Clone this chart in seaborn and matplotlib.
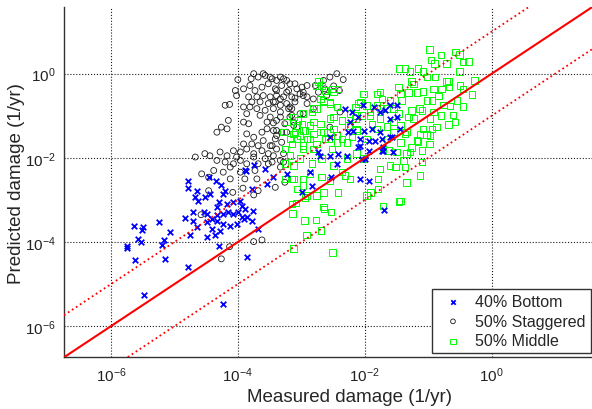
import numpy as np
import pandas as pd
import matplotlib
matplotlib.use('Agg')
import matplotlib.pyplot as plt
import seaborn as sns
from matplotlib.ticker import LogFormatterMathtext, NullLocator

# log10 of (measured, predicted) damage
bottom_log = [
    (-4.79, -2.54), (-4.79, -2.71), (-4.65, -2.78), (-4.67, -2.92), (-4.62, -3.03),
    (-4.52, -2.94), (-4.34, -2.56), (-4.27, -2.64), (-4.20, -2.79), (-4.24, -2.87),
    (-4.44, -2.86), (-4.29, -3.05), (-4.33, -3.17), (-4.17, -3.10), (-4.07, -3.05),
    (-3.97, -3.02), (-3.94, -3.14), (-3.89, -3.21), (-3.76, -3.27), (-3.99, -3.29),
    (-4.07, -3.33), (-4.15, -3.29), (-4.23, -3.33), (-4.33, -3.36), (-4.41, -3.45),
    (-4.49, -3.33), (-4.54, -3.28), (-4.70, -3.29), (-4.84, -3.44), (-4.71, -3.49),
    (-4.64, -3.65), (-4.48, -3.53), (-4.33, -3.49), (-4.23, -3.57), (-4.12, -3.61),
    (-4.02, -3.57), (-3.91, -3.45), (-3.86, -3.41), (-3.68, -3.69), (-4.41, -3.69),
    (-4.49, -3.89), (-4.36, -3.83), (-4.28, -3.73), (-4.75, -3.83), (-5.07, -3.75),
    (-5.25, -3.53), (-5.50, -3.65), (-5.51, -3.71), (-5.64, -3.63), (-5.57, -3.93),
    (-5.53, -3.99), (-5.16, -3.95), (-5.20, -4.07), (-5.74, -4.09), (-5.74, -4.15),
    (-5.62, -4.42), (-5.14, -4.40), (-4.78, -4.60), (-4.29, -4.09), (-3.86, -4.36),
    (-5.48, -5.26), (-4.23, -5.48), (-3.77, -2.75), (-3.75, -2.18), (-3.87, -2.32),
    (-3.77, -3.49), (-3.94, -3.41), (-4.46, -2.46), (-3.89, -2.30), (-3.57, -2.26),
    (-3.54, -2.62), (-3.44, -2.46), (-1.49, -0.75), (-1.60, -1.07), (-1.50, -1.03),
    (-1.68, -0.87), (-1.44, -1.31), (-1.57, -1.51), (-1.73, -1.55), (-1.55, -1.86),
    (-1.71, -1.75), (-1.86, -0.79), (-1.76, -0.91), (-2.20, -0.91), (-2.23, -1.15),
    (-2.26, -1.39), (-2.18, -1.35), (-2.02, -1.35), (-1.89, -1.31), (-1.76, -1.39),
    (-2.07, -1.55), (-1.94, -1.59), (-1.84, -1.59), (-1.71, -1.83), (-1.94, -1.83),
    (-2.10, -1.75), (-2.28, -1.95), (-2.42, -1.90), (-2.55, -1.95), (-1.99, -2.02),
    (-2.05, -2.02), (-3.23, -2.38), (-2.83, -2.66), (-2.54, -2.46), (-2.07, -2.50),
    (-1.94, -2.54), (-2.99, -2.82), (-2.31, -0.83), (-2.10, -1.03), (-1.60, -0.75),
    (-2.55, -1.51), (-2.73, -1.86), (-2.03, -0.74), (-1.60, -1.51), (-2.07, -1.71),
    (-2.86, -2.34), (-1.73, -1.83), (-2.44, -2.14), (-2.70, -1.95), (-1.70, -3.23),
]

staggered_log = [
    (-4.00, -0.14), (-3.79, -0.12), (-3.68, -0.08), (-3.57, -0.04), (-3.46, -0.12),
    (-3.33, -0.08), (-3.23, -0.16), (-3.10, -0.24), (-2.99, -0.32), (-3.91, -0.36),
    (-3.81, -0.28), (-3.73, -0.40), (-3.62, -0.32), (-3.52, -0.24), (-3.41, -0.36),
    (-3.31, -0.28), (-3.20, -0.40), (-4.02, -0.52), (-3.83, -0.55), (-3.70, -0.55),
    (-3.60, -0.52), (-3.49, -0.55), (-3.39, -0.52), (-3.28, -0.55), (-3.15, -0.55),
    (-3.02, -0.48), (-2.91, -0.55), (-3.78, -0.67), (-3.65, -0.67), (-3.52, -0.71),
    (-3.41, -0.67), (-3.33, -0.75), (-3.23, -0.71), (-3.10, -0.67), (-4.20, -0.75),
    (-4.13, -0.73), (-3.91, -0.79), (-3.81, -0.79), (-3.70, -0.83), (-3.57, -0.87),
    (-3.44, -0.83), (-3.33, -0.91), (-3.20, -0.83), (-3.86, -0.95), (-3.65, -0.99),
    (-3.49, -1.03), (-3.33, -1.03), (-3.15, -0.99), (-4.15, -1.11), (-3.91, -1.15),
    (-3.83, -1.19), (-3.54, -1.15), (-3.44, -1.17), (-3.26, -1.19), (-3.12, -1.23),
    (-4.26, -1.27), (-4.33, -1.39), (-3.86, -1.43), (-3.62, -1.39), (-3.54, -1.31),
    (-3.39, -1.35), (-3.23, -1.39), (-3.75, -1.51), (-3.60, -1.59), (-3.39, -1.47),
    (-3.31, -1.63), (-3.91, -1.67), (-3.78, -1.67), (-3.68, -1.71), (-3.49, -1.71),
    (-4.07, -1.83), (-3.96, -1.86), (-3.86, -1.79), (-3.75, -1.90), (-3.62, -1.83),
    (-3.52, -1.90), (-3.39, -1.79), (-3.28, -1.90), (-4.67, -1.98), (-4.52, -1.90),
    (-4.44, -1.95), (-4.28, -1.86), (-4.17, -1.95), (-4.02, -1.98), (-3.96, -2.06),
    (-3.75, -1.98), (-3.57, -2.02), (-3.44, -1.95), (-4.33, -2.06), (-4.20, -2.10),
    (-4.07, -2.14), (-3.86, -2.14), (-3.68, -2.14), (-3.52, -2.14), (-3.33, -2.06),
    (-4.57, -2.38), (-4.38, -2.30), (-4.23, -2.34), (-4.12, -2.22), (-3.96, -2.34),
    (-3.73, -2.30), (-3.33, -2.22), (-4.12, -2.50), (-3.70, -2.50), (-3.89, -2.50),
    (-2.44, 0.00), (-2.34, -0.14), (-2.55, -0.08), (-2.65, -0.16), (-2.49, -0.29),
    (-2.40, -0.40), (-2.63, -0.36), (-2.78, -0.28), (-2.97, -0.44), (-3.10, -0.58),
    (-2.81, -0.60), (-3.15, -0.83), (-2.97, -0.95), (-3.12, -1.15), (-2.55, -1.27),
    (-3.07, -1.27), (-2.39, -0.91), (-2.73, -0.44), (-2.60, -0.52), (-4.17, -1.31),
    (-4.46, -2.78), (-4.04, -0.40), (-3.75, 0.00), (-3.60, 0.00), (-4.26, -4.40),
    (-4.13, -4.11), (-3.75, -3.99), (-3.62, -3.95), (-4.58, -3.35), (-4.46, -2.46),
    (-3.49, -0.08), (-3.39, -0.16), (-3.28, -0.12), (-3.18, -0.24), (-3.07, -0.36),
    (-2.91, -0.28), (-3.39, -0.40), (-3.23, -0.44), (-3.44, -0.67), (-3.33, -0.60),
    (-3.18, -0.79), (-2.97, -0.52), (-2.91, -0.71), (-2.81, -0.83), (-3.02, -0.95),
    (-3.18, -1.03), (-3.39, -1.11), (-3.44, -1.35), (-3.31, -1.39), (-3.41, -1.55),
    (-3.46, -1.71), (-3.41, -2.70), (-3.26, -2.58), (-3.28, -2.10), (-3.46, -2.10),
    (-3.92, -2.72), (-3.75, -2.88), (-3.68, -2.78), (-4.08, -2.82),
]

middle_log = [
    (-0.98, 0.58), (-0.80, 0.44), (-0.57, 0.52), (-0.51, 0.45), (-0.37, 0.29),
    (-0.45, 0.28), (-0.96, 0.32), (-0.90, 0.24), (-0.71, 0.24), (-1.46, 0.12),
    (-1.37, 0.12), (-1.29, 0.05), (-1.16, 0.12), (-1.08, 0.05), (-0.89, -0.08),
    (-0.51, 0.05), (-0.71, -0.18), (-0.68, -0.18), (-0.27, -0.16), (-1.26, -0.18),
    (-1.23, -0.24), (-1.02, -0.08), (-0.67, -0.32), (-0.79, -0.36), (-0.92, -0.36),
    (-0.50, -0.28), (-0.45, -0.36), (-0.31, -0.50), (-1.47, -0.32), (-1.44, -0.48),
    (-1.31, -0.45), (-1.18, -0.45), (-1.08, -0.42), (-1.02, -0.64), (-0.94, -0.64),
    (-0.84, -0.53), (-0.55, -0.64), (-0.76, -0.74), (-0.66, -0.77), (-0.45, -0.78),
    (-1.76, -0.44), (-1.73, -0.60), (-1.60, -0.64), (-1.42, -0.64), (-1.55, -0.83),
    (-1.26, -0.87), (-1.14, -0.83), (-1.10, -0.87), (-0.92, -0.91), (-0.80, -0.99),
    (-0.61, -0.98), (-1.31, -1.03), (-1.23, -1.07), (-0.97, -1.07), (-0.68, -1.21),
    (-1.44, -1.23), (-1.08, -1.31), (-0.94, -1.31), (-1.13, -1.45), (-1.03, -1.45),
    (-1.55, -1.39), (-1.37, -1.43), (-1.65, -1.25), (-1.16, -1.61), (-0.98, -1.67),
    (-1.44, -1.63), (-1.26, -1.75), (-1.10, -1.83), (-1.63, -1.83), (-1.34, -1.90),
    (-1.65, -0.83), (-1.76, -1.07), (-1.81, -0.48), (-2.07, -0.67), (-1.97, -0.75),
    (-2.15, -0.79), (-2.55, -0.71), (-2.49, -1.03), (-2.65, -0.67), (-2.81, -0.83),
    (-2.97, -0.95), (-3.12, -1.03), (-3.10, -1.39), (-3.18, -1.55), (-3.02, -1.47),
    (-2.86, -1.55), (-2.70, -1.39), (-2.63, -1.55), (-2.44, -1.63), (-2.28, -1.63),
    (-2.20, -1.51), (-2.13, -1.35), (-1.97, -1.55), (-1.81, -1.31), (-1.55, -1.15),
    (-1.65, -1.55), (-1.50, -1.86), (-1.29, -1.86), (-1.39, -2.06), (-1.52, -2.22),
    (-1.76, -2.26), (-1.79, -2.50), (-1.34, -2.58), (-1.79, -2.74), (-1.71, -3.14),
    (-1.97, -2.90), (-2.13, -1.90), (-2.28, -2.02), (-2.49, -2.18), (-2.68, -2.02),
    (-2.83, -2.14), (-3.02, -2.02), (-3.12, -2.18), (-3.26, -2.14), (-3.12, -2.50),
    (-2.86, -2.38), (-2.68, -2.46), (-2.97, -2.66), (-3.07, -2.74), (-2.76, -2.90),
    (-2.42, -2.82), (-2.65, -3.17), (-2.23, -2.50), (-2.36, -2.34), (-2.52, -1.79),
    (-2.81, -1.79), (-2.97, -1.79), (-3.07, -1.23), (-3.23, -1.15), (-2.02, -0.48),
    (-2.13, -0.99), (-2.36, -1.11), (-2.23, -1.23), (-1.92, -0.99), (-1.76, -0.83),
    (-1.47, -0.95), (-1.34, -1.39), (-1.71, -1.79), (-2.02, -2.02), (-2.55, -1.39),
    (-2.81, -1.15), (-2.94, -1.35), (-3.26, -1.79), (-3.18, -1.95), (-3.28, -1.39),
    (-3.26, -2.50), (-1.91, -2.82), (-1.44, -3.02), (-1.13, -2.42), (-1.60, -2.18),
    (-1.37, -2.22), (-1.10, -2.10), (-1.18, -1.59), (-0.97, -1.47), (-0.87, -1.27),
    (-0.58, -1.15), (-2.97, -2.50), (-2.94, -2.94), (-2.65, -2.82), (-3.15, -2.50),
    (-2.91, -2.90), (-3.15, -3.10), (-3.08, -3.07), (-3.14, -3.32), (-2.64, -3.21),
    (-2.53, -3.29), (-2.95, -3.49), (-2.77, -3.48), (-2.69, -3.73), (-2.92, -3.83),
    (-3.12, -4.15), (-2.51, -4.25), (-2.31, -2.42), (-2.55, -2.54), (-1.46, -3.04),
    (-2.73, -0.18), (-2.68, -0.28), (-2.76, -0.29), (-2.63, -0.40), (-2.52, -0.36),
    (-2.42, -0.36), (-2.49, -0.44), (-2.70, -0.60), (-2.65, -0.64), (-2.55, -0.67),
    (-2.44, -0.79), (-2.83, -0.91), (-2.76, -0.83), (-3.05, -1.11), (-2.99, -1.19),
    (-2.86, -1.23), (-2.70, -1.19), (-2.55, -1.07), (-2.97, -1.35), (-3.12, -1.43),
    (-3.07, -1.55), (-2.91, -1.55), (-2.81, -1.43), (-2.65, -1.39), (-2.49, -1.31),
    (-2.44, -1.47), (-2.57, -1.55), (-2.76, -1.67), (-2.36, -1.55), (-2.10, -0.71),
    (-2.23, -0.95), (-2.15, -1.07), (-2.05, -0.99), (-1.92, -0.91), (-1.81, -0.75),
    (-2.26, -1.23), (-2.13, -1.31), (-1.89, -1.19), (-3.15, -1.67), (-2.97, -1.71),
]

series_labels = ['40% Bottom', '50% Staggered', '50% Middle']
x_log_range = (-6.74, 2.27)
y_log_range = (-6.74, 1.58)
tick_exponents = [-6, -4, -2, 0]


def to_frame(points):
    arr = 10.0 ** np.array(points)
    return pd.DataFrame({'measured': arr[:, 0], 'predicted': arr[:, 1]})


bottom = to_frame(bottom_log)
staggered = to_frame(staggered_log)
middle = to_frame(middle_log)

sns.set_theme(style='white')
plt.rcParams['font.family'] = ['Liberation Sans', 'DejaVu Sans']
plt.rcParams['mathtext.fontset'] = 'custom'
plt.rcParams['mathtext.rm'] = 'Liberation Sans'
plt.rcParams['mathtext.default'] = 'regular'
plt.rcParams['axes.unicode_minus'] = False

fig = plt.figure(figsize=(5.92, 4.10), dpi=100)
# the original axes run past the right edge of the picture
ax = fig.add_axes([0.108, 0.126, 0.966, 0.854])
ax.set_xscale('log')
ax.set_yscale('log')

sns.scatterplot(data=staggered, x='measured', y='predicted', ax=ax, marker='o',
                s=18, facecolor='none', edgecolor='k', linewidth=0.6,
                label=series_labels[1], zorder=2)
sns.scatterplot(data=middle, x='measured', y='predicted', ax=ax, marker='s',
                s=22, facecolor='none', edgecolor='#00ff00', linewidth=0.7,
                label=series_labels[2], zorder=3)
sns.scatterplot(data=bottom, x='measured', y='predicted', ax=ax, marker='x',
                s=16, color='blue', linewidth=1.3,
                label=series_labels[0], zorder=4)

xlo, xhi = 10.0 ** x_log_range[0], 10.0 ** x_log_range[1]
ylo, yhi = 10.0 ** y_log_range[0], 10.0 ** y_log_range[1]
ref = np.array([xlo, xhi])
ax.plot(ref, ref, color='red', lw=1.5, zorder=5)
ax.plot(ref, ref * 10, color='red', lw=1.3, ls=':', zorder=5)
ax.plot(ref, ref / 10, color='red', lw=1.3, ls=':', zorder=5)

ax.set_xlim(xlo, xhi)
ax.set_ylim(ylo, yhi)
ticks = [10.0 ** e for e in tick_exponents]
ax.set_xticks(ticks)
ax.set_yticks(ticks)
ax.xaxis.set_minor_locator(NullLocator())
ax.yaxis.set_minor_locator(NullLocator())
ax.xaxis.set_major_formatter(LogFormatterMathtext())
ax.yaxis.set_major_formatter(LogFormatterMathtext())
ax.tick_params(length=0, labelsize=11, pad=6, colors='#222222')
ax.grid(True, which='major', ls=':', color='k', lw=0.8)

for side in ['top', 'right']:
    ax.spines[side].set_visible(False)
for side in ['left', 'bottom']:
    ax.spines[side].set_color('#333333')
    ax.spines[side].set_linewidth(1.0)

ax.set_xlabel('Measured damage (1/yr)', fontsize=13.5, labelpad=3)
ax.set_ylabel('Predicted damage (1/yr)', fontsize=13.5)
ax.yaxis.set_label_coords(-0.068, 0.5)

handles, labels = ax.get_legend_handles_labels()
order = [labels.index(l) for l in series_labels]
leg = ax.legend([handles[i] for i in order], series_labels, loc='lower right',
                bbox_to_anchor=(0.921, 0.012), borderaxespad=0, fontsize=11.5,
                markerscale=0.8, fancybox=False, edgecolor='#333333',
                framealpha=1, labelspacing=0.3, handletextpad=0.4,
                borderpad=0.3)
leg.get_frame().set_linewidth(1.0)

fig.savefig('out.png', dpi=100)
